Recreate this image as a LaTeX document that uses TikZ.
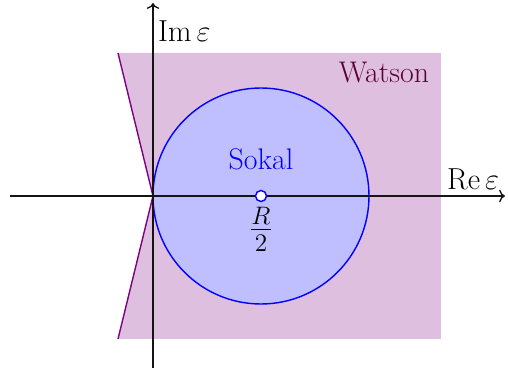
\documentclass[tikz,border=0pt]{standalone}
\usepackage{amsmath,amssymb}
\usepackage{tikz}
\usetikzlibrary{arrows.meta,positioning,calc}
\usepackage{xcolor}
\definecolor{ink}{RGB}{20,20,20}
\definecolor{wats}{RGB}{90,0,50}
\tikzset{
  axis/.style={->,thick,ink},
  region/.style={fill=violet!25,draw=none},
  edge/.style={violet,thick},
  disc/.style={fill=blue!25,draw=blue,thick},
  lbl/.style={font=\fontsize{17}{19}\selectfont,inner sep=1pt},
  pt/.style={circle,draw=blue,fill=white,thick,inner sep=0pt,minimum size=2.2mm},
}

\begin{document}
\begin{tikzpicture}[x=0.02cm,y=0.02cm]
\useasboundingbox (-153,-176) rectangle (355,196);
% Watson region
\fill[region] (-35,143) -- (0,0) -- (-35,-143) -- (288,-143) -- (288,143) -- cycle;
\draw[edge] (-35,143) -- (0,0) -- (-35,-143);
% Sokal disc
\draw[disc] (108,0) circle (108);
% axes
\coordinate (O) at (0,0);
\coordinate (xl) at (-143,0);
\coordinate (xr) at (352,0);
\coordinate (yb) at (0,-172);
\coordinate (yt) at (0,193);
\draw[axis] (xl) -- (xr);
\draw[axis] (yb) -- (yt);
\node[pt] (c) at (108,0) {};
\node[lbl,font=\fontsize{20}{22}\selectfont] (half) at (108,-33) {$\frac{R}{2}$};
\node[lbl,text=blue,anchor=base] (sokal) at (108,26) {Sokal};
\node[lbl,text=wats,anchor=base] (watson) at (231,113) {Watson};
\node[lbl,anchor=base west] (re) at (292,6) {$\operatorname{Re}\varepsilon$};
\node[lbl,anchor=base west] (im) at (3,154) {$\operatorname{Im}\varepsilon$};
\end{tikzpicture}
\end{document}
